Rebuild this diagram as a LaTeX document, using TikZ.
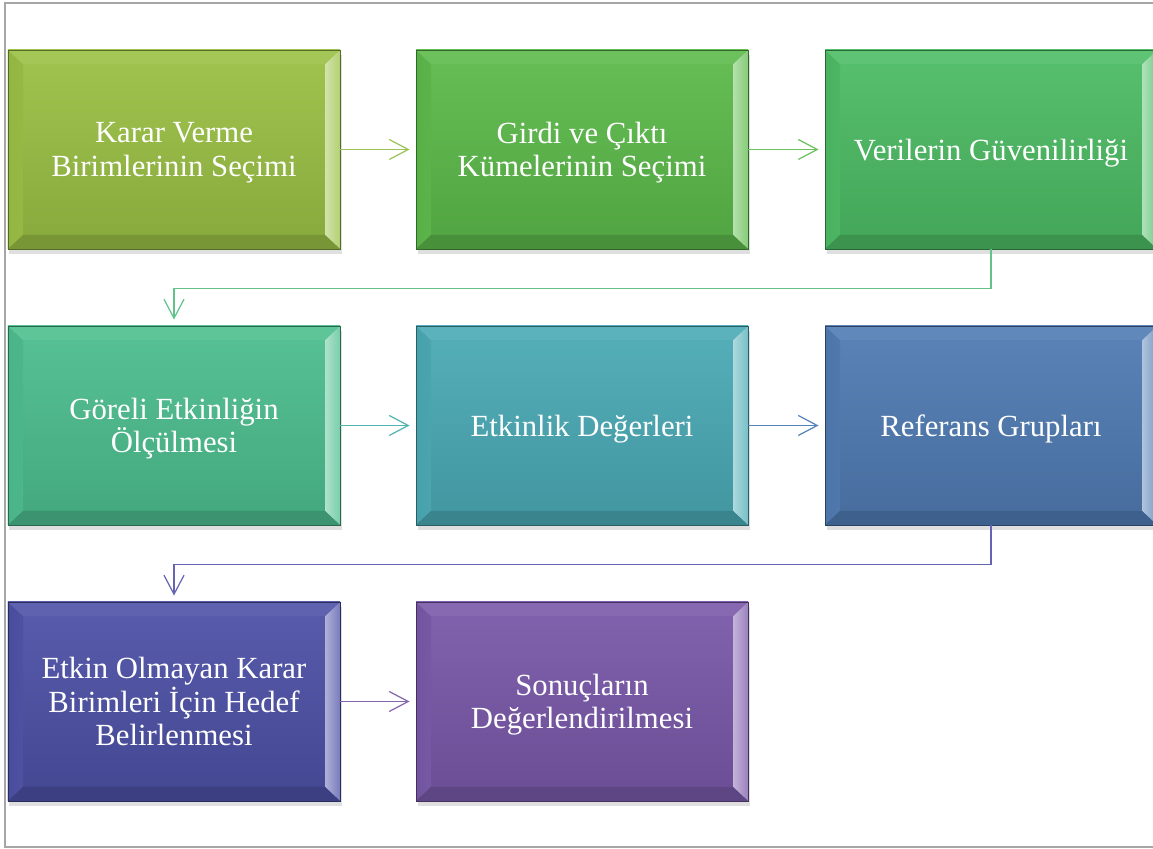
\documentclass[tikz,border=0pt]{standalone}
\usepackage{fontspec}
\setmainfont{Liberation Serif}
\usetikzlibrary{arrows.meta,shadows}

\definecolor{cKV}{HTML}{9AC044}
\definecolor{cGC}{HTML}{5CBA4A}
\definecolor{cVG}{HTML}{4CBC64}
\definecolor{cGE}{HTML}{4CBE8E}
\definecolor{cED}{HTML}{4AAAB5}
\definecolor{cRG}{HTML}{507BB3}
\definecolor{cEO}{HTML}{4D51A6}
\definecolor{cSD}{HTML}{7958A9}
\definecolor{aKV}{HTML}{9CC35A}
\definecolor{aGC}{HTML}{6CC05E}
\definecolor{aVG}{HTML}{62C28C}
\definecolor{aGE}{HTML}{52B4B0}
\definecolor{aED}{HTML}{5482BA}
\definecolor{aRG}{HTML}{6464B2}
\definecolor{aEO}{HTML}{8466AC}

\begin{document}
\begin{tikzpicture}[
  stage/.style={draw=#1!55!black,line width=0.5pt,top color=#1!94!white,bottom color=#1!88!black,
    minimum width=6.64cm,minimum height=3.98cm,align=center,text=white,text depth=0pt,
    font=\rmfamily\fontsize{17.5}{19}\selectfont,
    drop shadow={shadow xshift=0.3mm,shadow yshift=-1.1mm,opacity=0.25},
    path picture={
      \shade[left color=#1!95!black,right color=#1!45!white]
        (path picture bounding box.north west) -- ++(0.3,-0.28)
        -- ([shift={(0.3,0.28)}]path picture bounding box.south west)
        -- (path picture bounding box.south west) -- cycle;
      \shade[left color=#1!45!white,right color=#1!75!white]
        (path picture bounding box.north east) -- ++(-0.3,-0.28)
        -- ([shift={(-0.3,0.28)}]path picture bounding box.south east)
        -- (path picture bounding box.south east) -- cycle;
      \fill[#1!90!white]
        (path picture bounding box.north west) -- ++(0.3,-0.28)
        -- ([shift={(-0.3,-0.28)}]path picture bounding box.north east)
        -- (path picture bounding box.north east) -- cycle;
      \fill[#1!78!black]
        (path picture bounding box.south west) -- ++(0.3,0.28)
        -- ([shift={(-0.3,0.28)}]path picture bounding box.south east)
        -- (path picture bounding box.south east) -- cycle;
    }},
  arrow/.style={-{Straight Barb[length=3.8mm,width=4mm]},line width=0.7pt,shorten >=1.2mm}
]
  \path[use as bounding box,clip] (0,0) rectangle (23.06,16.98);
  \draw[gray!70,line width=0.8pt] (23.06,16.92) -- (0.1,16.92) -- (0.1,0.04) -- (23.06,0.04);

  \node[stage=cKV] (KV) at (3.48,13.99) {Karar Verme\\Birimlerinin Seçimi};
  \node[stage=cGC] (GC) at (11.64,13.99) {Girdi ve Çıktı\\Kümelerinin Seçimi};
  \node[stage=cVG] (VG) at (19.82,13.99) {Verilerin Güvenilirliği};

  \node[stage=cGE] (GE) at (3.48,8.47) {Göreli Etkinliğin\\Ölçülmesi};
  \node[stage=cED] (ED) at (11.64,8.47) {Etkinlik Değerleri};
  \node[stage=cRG] (RG) at (19.82,8.47) {Referans Grupları};

  \node[stage=cEO] (EO) at (3.48,2.95) {Etkin Olmayan Karar\\Birimleri İçin Hedef\\Belirlenmesi};
  \node[stage=cSD] (SD) at (11.64,2.95) {Sonuçların\\Değerlendirilmesi};

  \draw[arrow,draw=aKV] (KV) -- (GC);
  \draw[arrow,draw=aGC] (GC) -- (VG);
  \draw[arrow,draw=aVG] (VG.south) -- ++(0,-0.78) -| (GE.north);
  \draw[arrow,draw=aGE] (GE) -- (ED);
  \draw[arrow,draw=aED] (ED) -- (RG);
  \draw[arrow,draw=aRG] (RG.south) -- ++(0,-0.78) -| (EO.north);
  \draw[arrow,draw=aEO] (EO) -- (SD);
\end{tikzpicture}
\end{document}
